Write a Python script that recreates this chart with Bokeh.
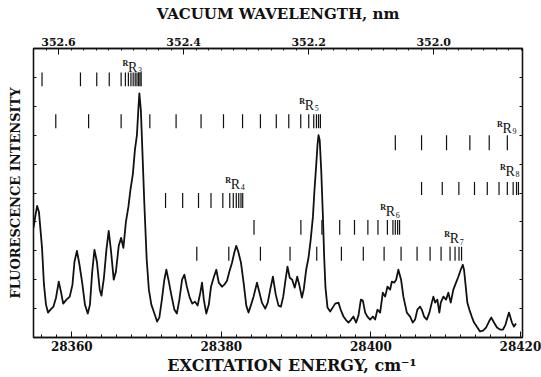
import math
from bokeh.plotting import figure
from bokeh.models import Range1d, LinearAxis, FixedTicker, NumeralTickFormatter
from bokeh.embed import file_html
from bokeh.resources import INLINE
from bokeh.core.properties import value

# ---------------- data ----------------
energy = [
    28354.88, 28355.15, 28355.37, 28355.61, 28356.02, 28356.28, 28356.55, 28356.82, 28357.15, 28357.55,
    28357.89, 28358.26, 28358.55, 28358.85, 28359.29, 28359.73, 28360.09, 28360.36, 28360.69, 28361.03,
    28361.39, 28361.76, 28362.14, 28362.43, 28362.72, 28363.03, 28363.36, 28363.74, 28363.97, 28364.30,
    28364.63, 28364.94, 28365.23, 28365.61, 28365.90, 28366.28, 28366.60, 28366.90, 28367.24, 28367.57,
    28367.84, 28368.17, 28368.44, 28368.71, 28368.91, 28369.04, 28369.24, 28369.44, 28369.71, 28370.02,
    28370.31, 28370.64, 28371.05, 28371.41, 28371.71, 28372.05, 28372.38, 28372.65, 28372.98, 28373.28,
    28373.72, 28374.05, 28374.39, 28374.75, 28375.06, 28375.39, 28375.77, 28376.12, 28376.48, 28376.83,
    28377.19, 28377.42, 28377.66, 28377.99, 28378.33, 28378.62, 28378.97, 28379.33, 28379.66, 28380.09,
    28380.40, 28380.76, 28381.07, 28381.43, 28381.73, 28382.00, 28382.27, 28382.63, 28382.98, 28383.34,
    28383.64, 28383.94, 28384.31, 28384.77, 28385.07, 28385.43, 28385.87, 28386.21, 28386.54, 28386.90,
    28387.28, 28387.65, 28387.97, 28388.28, 28388.59, 28388.85, 28389.15, 28389.48, 28389.82, 28390.15,
    28390.42, 28390.78, 28391.02, 28391.35, 28391.66, 28391.95, 28392.25, 28392.46, 28392.69, 28392.86,
    28393.00, 28393.16, 28393.36, 28393.58, 28393.76, 28393.93, 28394.20, 28394.56, 28394.89, 28395.23,
    28395.67, 28395.96, 28396.34, 28396.63, 28397.00, 28397.36, 28397.67, 28398.03, 28398.34, 28398.66,
    28398.93, 28399.24, 28399.54, 28399.90, 28400.27, 28400.57, 28400.88, 28401.24, 28401.60, 28401.91,
    28402.22, 28402.58, 28402.80, 28403.11, 28403.38, 28403.68, 28404.04, 28404.35, 28404.81, 28405.25,
    28405.61, 28405.92, 28406.22, 28406.58, 28406.81, 28407.12, 28407.48, 28407.83, 28408.15, 28408.36,
    28408.59, 28408.89, 28409.16, 28409.35, 28409.70, 28410.06, 28410.36, 28410.68, 28411.03, 28411.39,
    28411.70, 28412.02, 28412.29, 28412.46, 28412.73, 28412.90, 28413.17, 28413.49, 28413.80, 28414.16,
    28414.60, 28415.00, 28415.40, 28415.80, 28416.11, 28416.47, 28416.87, 28417.27, 28417.67, 28418.01,
    28418.27, 28418.47, 28418.67, 28418.87, 28419.14, 28419.41,
]
intensity = [
    110, 123, 132, 126, 90, 53, 33, 25, 28, 31,
    40, 56, 46, 34, 38, 41, 53, 76, 87, 73,
    55, 33, 24, 33, 65, 88, 76, 48, 42, 60,
    88, 107, 88, 58, 66, 92, 100, 90, 116, 131,
    148, 164, 188, 203, 230, 245, 228, 188, 133, 78,
    48, 33, 24, 16, 20, 38, 58, 68, 56, 44,
    28, 24, 38, 58, 63, 51, 40, 34, 36, 32,
    45, 55, 38, 24, 33, 51, 60, 68, 55, 51,
    53, 57, 66, 75, 85, 92, 86, 75, 55, 32,
    25, 32, 41, 55, 46, 35, 29, 35, 48, 61,
    43, 32, 31, 41, 58, 71, 60, 58, 50, 61,
    53, 40, 48, 68, 80, 98, 121, 148, 173, 193,
    203, 198, 168, 123, 80, 50, 30, 26, 30, 34,
    35, 28, 21, 18, 15, 18, 21, 15, 22, 38,
    37, 25, 21, 18, 21, 18, 28, 25, 45, 41,
    51, 48, 56, 55, 58, 68, 58, 41, 25, 21,
    15, 18, 28, 31, 28, 21, 18, 25, 35, 41,
    35, 38, 25, 35, 41, 38, 45, 35, 48, 55,
    61, 68, 73, 68, 48, 35, 28, 21, 15, 11,
    6, 7, 10, 16, 20, 15, 10, 8, 8, 13,
    20, 25, 20, 15, 11, 14,
]

# assignment sticks (line positions, cm-1) for each rotational branch
rr3_lines = [28356.02, 28361.16, 28363.34, 28365.01, 28366.60, 28367.17, 28367.57,
             28367.91, 28368.21, 28368.48, 28368.72, 28368.94, 28369.12, 28369.28]
rr5_lines = [28357.86, 28362.25, 28366.60, 28370.44, 28373.95, 28377.29, 28380.29,
             28382.84, 28385.23, 28387.35, 28389.02, 28390.62, 28391.69, 28392.36,
             28392.72, 28393.00, 28393.25]
rr9_lines = [28403.27, 28406.78, 28410.12, 28413.24, 28415.83, 28418.25]
rr8_lines = [28406.78, 28409.55, 28411.77, 28413.86, 28415.57, 28417.14, 28418.25,
             28419.03, 28419.48, 28419.74]
rr4_lines = [28372.54, 28374.83, 28376.95, 28378.62, 28380.20, 28381.13, 28381.60,
             28382.00, 28382.33, 28382.63, 28382.86]
rr6_lines = [28384.37, 28390.64, 28393.45, 28395.83, 28397.81, 28399.60, 28400.95,
             28402.21, 28402.95, 28403.27, 28403.58, 28403.84]
rr7_lines = [28376.72, 28381.00, 28385.23, 28389.19, 28392.76, 28396.06, 28398.99,
             28401.77, 28404.04, 28406.18, 28407.92, 28409.39, 28410.59, 28411.26,
             28411.79, 28412.13]

branch_numbers = ["3", "5", "9", "8", "4", "6", "7"]

energy_ticks = [28360, 28380, 28400, 28420]
wavelength_ticks = [352.6, 352.4, 352.2, 352.0]

# ---------------- layout / style ----------------
INK = "#111111"
SERIF_BOLD = "DejaVu Serif"

p = figure(width=541, height=377, output_backend="svg", toolbar_location=None,
           x_range=Range1d(28354.88, 28420.28), y_range=Range1d(0, 290),
           x_axis_location=None, y_axis_location=None,
           min_border_left=33, min_border_right=19, min_border_top=48, min_border_bottom=39,
           background_fill_color="white", border_fill_color="white")
p.grid.visible = False
p.outline_line_color = INK
p.outline_line_width = 1.3

p.extra_x_ranges = {"wl": Range1d(352.64, 351.858)}


def style_axis(ax, label_size="11px", show_labels=True):
    ax.axis_line_color = INK
    ax.axis_line_width = 1.3
    ax.major_tick_line_color = INK
    ax.minor_tick_line_color = INK
    ax.major_tick_in = 6
    ax.major_tick_out = 0
    ax.minor_tick_in = 3
    ax.minor_tick_out = 0
    ax.major_label_text_font = SERIF_BOLD
    ax.major_label_text_font_style = "bold"
    ax.major_label_text_color = INK
    ax.major_label_text_font_size = label_size if show_labels else "0px"
    ax.axis_label_text_font = SERIF_BOLD
    ax.axis_label_text_font_style = "bold"
    ax.axis_label_text_color = INK
    if not show_labels:
        ax.major_label_standoff = 0


minor_e = list(range(28356, 28421, 2))
bx = LinearAxis(ticker=FixedTicker(ticks=energy_ticks, minor_ticks=minor_e),
                formatter=NumeralTickFormatter(format="0"),
                axis_label="\u00a0\u00a0\u00a0\u00a0\u00a0EXCITATION ENERGY, cm\u207b\u00b9")
style_axis(bx, label_size="12px")
bx.major_label_standoff = 3
bx.axis_label_standoff = 2
bx.axis_label_text_font_size = "16px"
p.add_layout(bx, "below")

minor_wl = [round(352.64 - 0.02 * i, 2) for i in range(40)]
tx = LinearAxis(x_range_name="wl", ticker=FixedTicker(ticks=wavelength_ticks, minor_ticks=minor_wl),
                formatter=NumeralTickFormatter(format="0.0"),
                axis_label="VACUUM WAVELENGTH, nm")
style_axis(tx)
tx.minor_tick_in = 2
tx.major_label_standoff = 3
tx.axis_label_standoff = 12
tx.axis_label_text_font_size = "15px"
p.add_layout(tx, "above")

side_minor = [29 * i for i in range(1, 10)]
ly = LinearAxis(ticker=FixedTicker(ticks=[], minor_ticks=side_minor),
                axis_label="FLUORESCENCE INTENSITY")
style_axis(ly, show_labels=False)
ly.axis_label_standoff = 11
ly.axis_label_text_font_size = "13px"
p.add_layout(ly, "left")

ry = LinearAxis(ticker=FixedTicker(ticks=[], minor_ticks=side_minor))
style_axis(ry, show_labels=False)
p.add_layout(ry, "right")

# spectrum
p.line(energy, intensity, line_color=INK, line_width=1.8, line_join="round")

# stick rows: (positions, bottom, top) in intensity units
rows = [
    (rr3_lines, 252, 266),
    (rr5_lines, 210, 224),
    (rr9_lines, 188, 203),
    (rr8_lines, 143, 156),
    (rr4_lines, 130, 145),
    (rr6_lines, 103, 118),
    (rr7_lines, 77, 91),
]
for lines, lo, hi in rows:
    p.segment(x0=lines, x1=lines, y0=[lo] * len(lines), y1=[hi] * len(lines),
              line_color=INK, line_width=1.2)

# branch labels  ^R R_n
label_x = [28366.77, 28390.42, 28416.87, 28417.27, 28380.53, 28401.24, 28409.83]
label_y = [271, 233, 210, 167, 154, 126, 99]
LAB_FONT = value("Liberation Serif")
p.text(x=label_x, y=label_y, text=["R"] * len(label_x), text_font=LAB_FONT,
       text_font_size=value("8px"), text_font_style="bold", text_color=INK,
       text_baseline="alphabetic", text_align="left", y_offset=-4)
p.text(x=label_x, y=label_y, text=["R"] * len(label_x), text_font=LAB_FONT,
       text_font_size=value("14px"), text_color=INK,
       text_baseline="alphabetic", text_align="left", x_offset=5.5)
p.text(x=label_x, y=label_y, text=branch_numbers, text_font=LAB_FONT,
       text_font_size=value("8px"), text_color=INK,
       text_baseline="alphabetic", text_align="left", x_offset=15.5, y_offset=3)

open("out.html", "w").write(file_html(p, INLINE))
